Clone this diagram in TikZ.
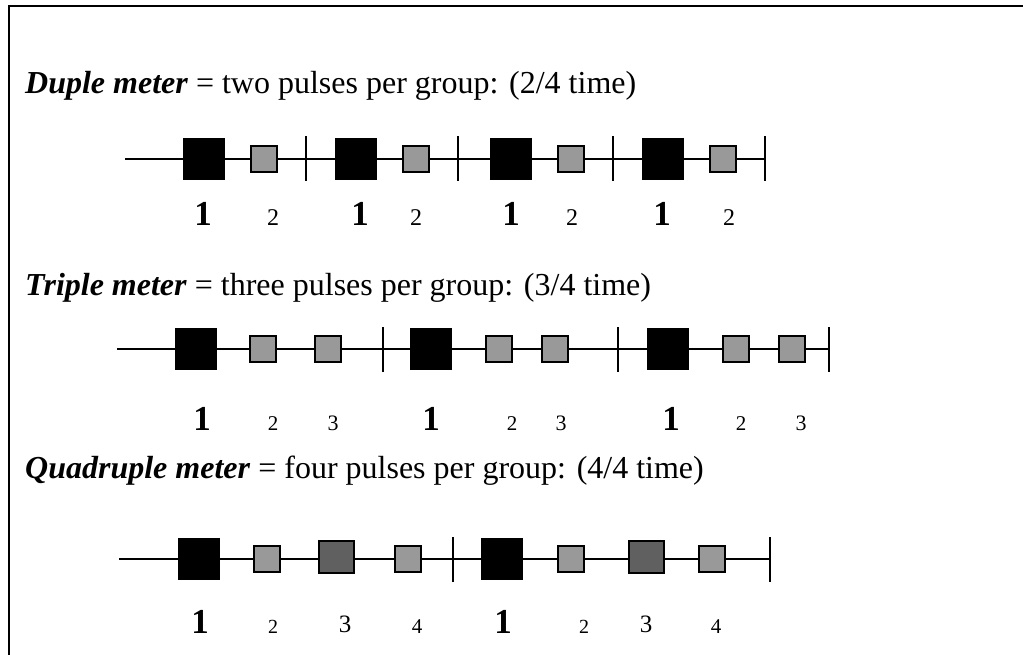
\documentclass[tikz,border=0pt]{standalone}
\usepackage{fontspec}
\setmainfont{Liberation Serif}
\usepackage{xcolor}
\usepackage{tikz}
\usetikzlibrary{positioning}

\definecolor{pulsegray}{HTML}{999999}
\definecolor{thirdgray}{HTML}{606060}

\begin{document}
\begin{tikzpicture}[x=1pt,y=-1pt,
    strong/.style={rectangle, fill=black, inner sep=0pt, minimum size=42pt},
    weak/.style={rectangle, draw=black, line width=2pt, fill=pulsegray, inner sep=0pt, minimum size=26pt},
    medium/.style={rectangle, draw=black, line width=2pt, fill=thirdgray, inner sep=0pt, minimum width=35pt, minimum height=32pt},
    bar/.style={rectangle, fill=black, inner sep=0pt, minimum width=2pt, minimum height=45pt},
    rule/.style={line width=1.7pt},
    title/.style={anchor=base west, inner sep=0pt, font=\fontsize{32}{38}\selectfont},
    one/.style={anchor=base, inner sep=0pt, font=\fontsize{35}{35}\selectfont\bfseries},
    beat/.style={anchor=base, inner sep=0pt, font=\fontsize{#1}{#1}\selectfont},
    beat/.default=22]
    \useasboundingbox (0,0) rectangle (1023,655);
    % frame
    \coordinate (fa) at (9,655);
    \coordinate (fb) at (9,5.7);
    \coordinate (fc) at (1023,5.7);
    \draw[line width=2pt] (fa) -- (fb) -- (fc);

    % duple meter
    \node[title] (duple) at (25,94) {\textbf{\textit{Duple meter}} = two pulses per group: (2/4 time)};
    \coordinate (d0) at (125,159);
    \node[bar] (dt4) at (765,159) {};
    \draw[rule] (d0) -- (dt4.center);
    \node[strong] (db1) at (203.5,159) {};
    \node[weak] (ds1) at (263.5,159) {};
    \node[bar] (dt1) at (306,159) {};
    \node[strong] (db2) at (356,159) {};
    \node[weak] (ds2) at (416,159) {};
    \node[bar] (dt2) at (458,159) {};
    \node[strong] (db3) at (511,159) {};
    \node[weak] (ds3) at (570.5,159) {};
    \node[bar] (dt3) at (613,159) {};
    \node[strong] (db4) at (662.5,159) {};
    \node[weak] (ds4) at (722.5,159) {};
    \node[one] (dl1) at (203,226) {1};
    \node[beat=24] (dl2) at (273,226) {2};
    \node[one] (dl3) at (360,226) {1};
    \node[beat=24] (dl4) at (416,226) {2};
    \node[one] (dl5) at (511,226) {1};
    \node[beat=24] (dl6) at (572,226) {2};
    \node[one] (dl7) at (662,226) {1};
    \node[beat=24] (dl8) at (729,226) {2};

    % triple meter
    \node[title] (triple) at (25,295) {\textbf{\textit{Triple meter}} = three pulses per group: (3/4 time)};
    \coordinate (t0) at (117,349);
    \node[bar] (tt3) at (829,349) {};
    \draw[rule] (t0) -- (tt3.center);
    \node[strong] (tb1) at (195.5,349) {};
    \node[weak] (ts1) at (263,349) {};
    \node[weak] (ts2) at (327.5,349) {};
    \node[bar] (tt1) at (383,349) {};
    \node[strong] (tb2) at (430.5,349) {};
    \node[weak] (ts3) at (498.5,349) {};
    \node[weak] (ts4) at (554.5,349) {};
    \node[bar] (tt2) at (618,349) {};
    \node[strong] (tb3) at (667.5,349) {};
    \node[weak] (ts5) at (736,349) {};
    \node[weak] (ts6) at (792,349) {};
    \node[one] (tl1) at (202,430) {1};
    \node[beat=21] (tl2) at (273,430) {2};
    \node[beat=22] (tl3) at (333,430) {3};
    \node[one] (tl4) at (431,430) {1};
    \node[beat=21] (tl5) at (512,430) {2};
    \node[beat=22] (tl6) at (561,430) {3};
    \node[one] (tl7) at (671,430) {1};
    \node[beat=21] (tl8) at (741,430) {2};
    \node[beat=22] (tl9) at (801,430) {3};

    % quadruple meter
    \node[title] (quadruple) at (25,478) {\textbf{\textit{Quadruple meter}} = four pulses per group: (4/4 time)};
    \coordinate (q0) at (119,559);
    \node[bar] (qt2) at (770,559) {};
    \draw[rule] (q0) -- (qt2.center);
    \node[strong] (qb1) at (198.5,559) {};
    \node[weak] (qs1) at (266.5,559) {};
    \node[medium] (qm1) at (336.5,556.5) {};
    \node[weak] (qs2) at (407.5,559) {};
    \node[bar] (qt1) at (453,559) {};
    \node[strong] (qb2) at (502,559) {};
    \node[weak] (qs3) at (570.5,559) {};
    \node[medium] (qm2) at (646.5,556.5) {};
    \node[weak] (qs4) at (712,559) {};
    \node[one] (ql1) at (200,633) {1};
    \node[beat=20] (ql2) at (273,633) {2};
    \node[beat=25] (ql3) at (345,632) {3};
    \node[beat=21] (ql4) at (417,633) {4};
    \node[one] (ql5) at (503,633) {1};
    \node[beat=20] (ql6) at (584,633) {2};
    \node[beat=25] (ql7) at (646,632) {3};
    \node[beat=21] (ql8) at (716,633) {4};
\end{tikzpicture}
\end{document}
